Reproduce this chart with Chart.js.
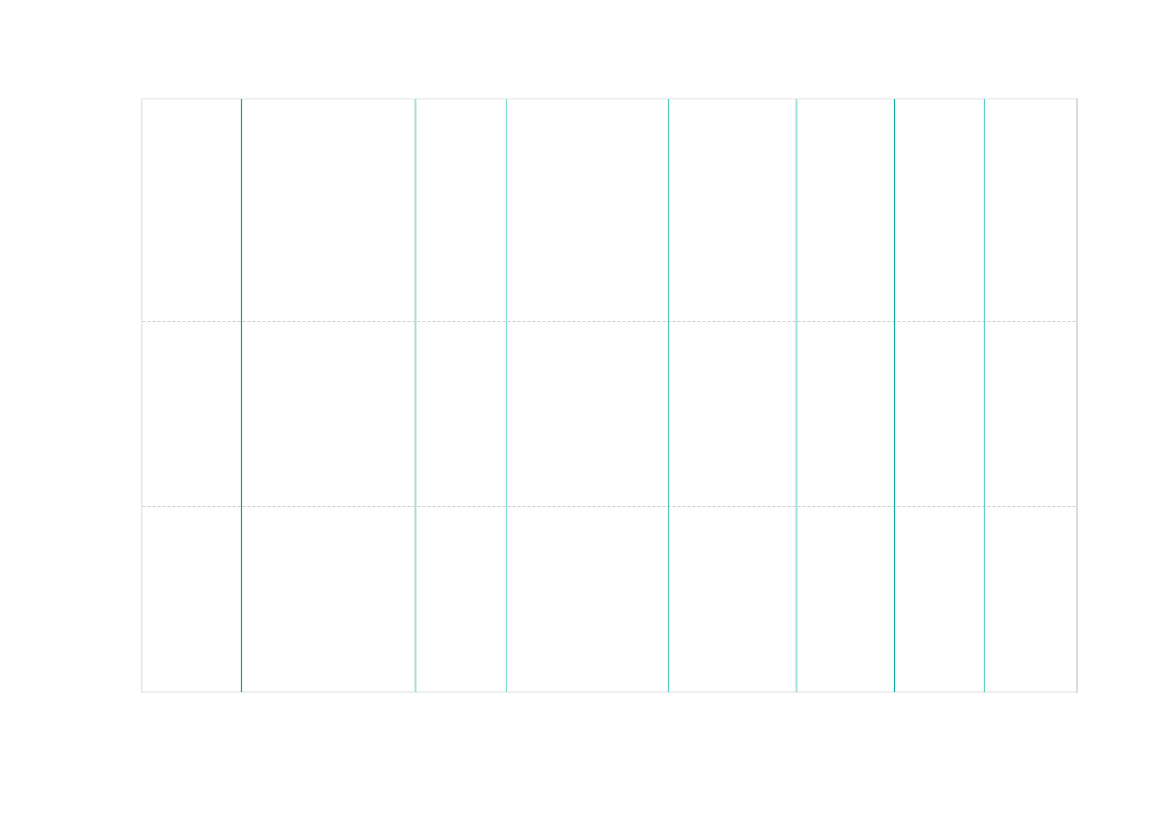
<!DOCTYPE html>
<html>
<head>
<meta charset="utf-8">
<script src="https://cdn.jsdelivr.net/npm/chart.js@4/dist/chart.umd.min.js"></script>
<style>
  html, body { margin: 0; padding: 0; background: #fff; }
  #wrap { width: 1169px; height: 827px; }
</style>
</head>
<body>
<div id="wrap"><canvas id="chart" width="1169" height="827"></canvas></div>
<script>
// ----------------------------------------------------
//                DATA
// ----------------------------------------------------
const ruleValues = [10.64, 29.25, 38.98, 56.31, 70.0, 80.48, 90.1];
const ruleColors = ["#169e96", "#a6e0dc", "#86ddd6", "#4ecac0", "#a0e3dc", "#0fae9f", "#5cd0c2"];
const ruleWidths = [1.2, 2, 1.2, 1.2, 2, 1.2, 1.2];
const yTicks = [1, 2];
const xMin = 0, xMax = 100;
const yMin = 0, yMax = 3.205;

// ----------------------------------------------------
//          datasets : one vertical rule each
// ----------------------------------------------------
const datasets = ruleValues.map((v, i) => ({
  data: [{ x: v, y: yMin }, { x: v, y: yMax }],
  borderColor: ruleColors[i],
  borderWidth: ruleWidths[i],
  pointRadius: 0,
  showLine: true,
  fill: false
}));

const hiddenAxis = (pos, color, width) => ({
  position: pos,
  display: true,
  grid: { display: false, drawTicks: false },
  ticks: { display: false },
  border: { display: true, color, width }
});

new Chart(document.getElementById("chart"), {
  type: "scatter",
  data: { datasets },
  options: {
    responsive: false,
    animation: false,
    layout: { padding: { left: 142, top: 99, right: 92, bottom: 135 } },
    plugins: { legend: { display: false }, tooltip: { enabled: false } },
    scales: {
      x: {
        type: "linear", min: xMin, max: xMax,
        grid: { display: false, drawTicks: false },
        ticks: { display: false },
        border: { display: true, color: "#eeeeee", width: 2 }
      },
      y: {
        type: "linear", min: yMin, max: yMax,
        afterBuildTicks: axis => { axis.ticks = yTicks.map(v => ({ value: v })); },
        grid: { color: "#cccccc", lineWidth: 1, drawTicks: false },
        ticks: { display: false },
        border: { display: true, color: "#e6e6e6", width: 1.5, dash: [3, 2], dashOffset: 0 }
      },
      x2: Object.assign(hiddenAxis("top", "#eeeeee", 1.5), { type: "linear", min: xMin, max: xMax }),
      y2: Object.assign(hiddenAxis("right", "#dddddd", 2), { type: "linear", min: yMin, max: yMax })
    }
  }
});
</script>
</body>
</html>
